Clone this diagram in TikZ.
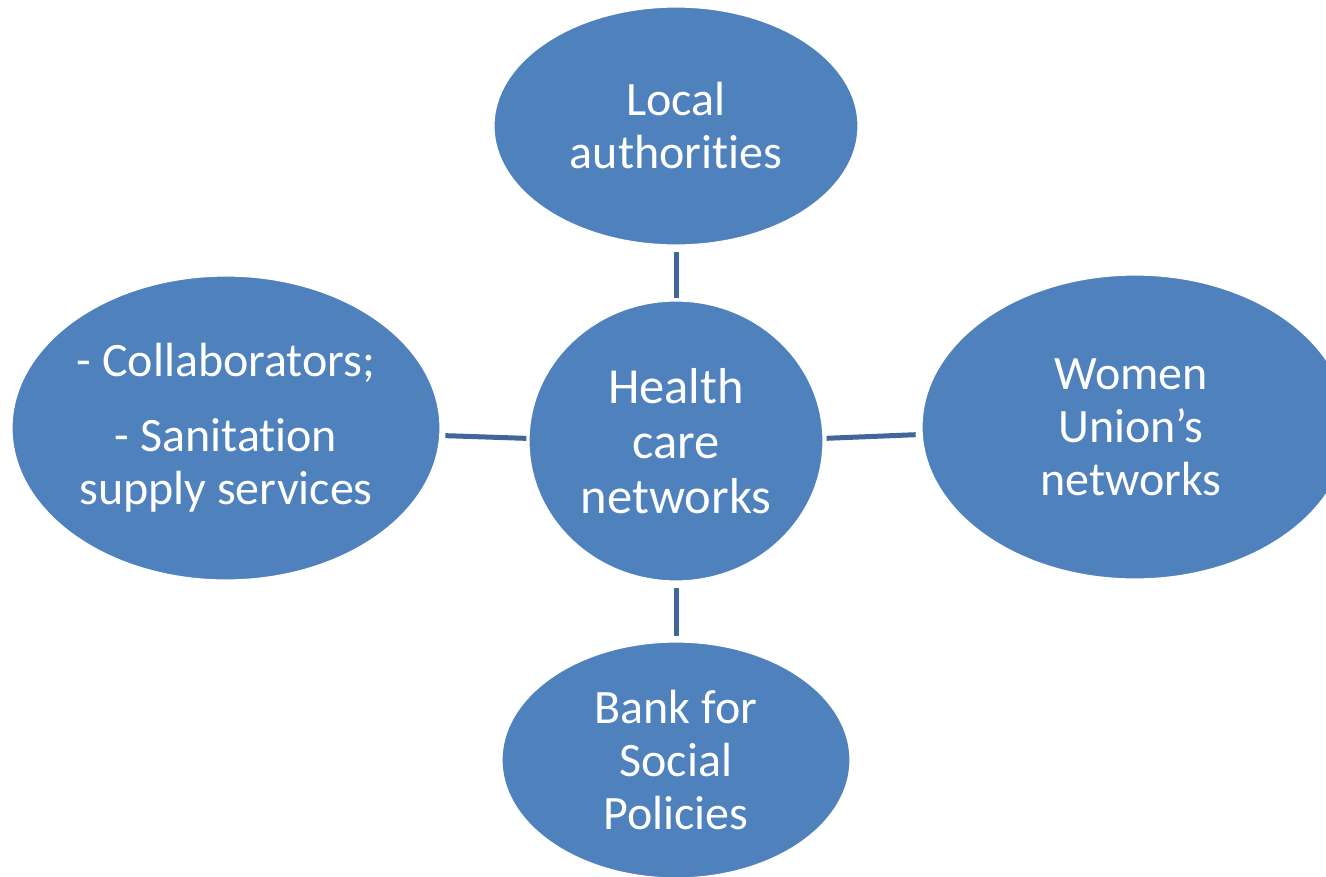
\documentclass[tikz,border=0pt]{standalone}
\usepackage{fontspec}
\setmainfont{Carlito}[Ligatures={NoCommon}]
\usetikzlibrary{shapes.geometric}

\definecolor{bubblefill}{HTML}{4F81BD}
\definecolor{linkline}{HTML}{3F6797}

\tikzset{
  bubble/.style={ellipse, fill=bubblefill, draw=white, line width=1.2pt,
    inner sep=0pt, text=white, align=center,
    font=\fontsize{48}{53}\selectfont},
  link/.style={draw=linkline, line width=5pt}
}

\begin{document}
\begin{tikzpicture}[x=1pt, y=-1pt]
  \useasboundingbox (0,0) rectangle (1326,876);
  \clip (0,0) rectangle (1326,876);

  % the hub and its four partners
  \node[bubble, minimum width=294pt, minimum height=280pt,
        font=\fontsize{50.5}{55}\selectfont] (hub) at (676,441)
    {Health\\care\\networks};
  \node[bubble, minimum width=364pt, minimum height=238pt] (top) at (676,126)
    {Local\\authorities};
  \node[bubble, minimum width=428pt, minimum height=304pt] (left) at (226,428)
    {- Collaborators;\\[22pt]- Sanitation\\supply services};
  \node[bubble, minimum width=426pt, minimum height=304pt] (right) at (1135,427) {};
  \node[text=white, align=center, font=\fontsize{48}{53}\selectfont,
        inner sep=0pt] (righttext) at (1131,427)
    {Women\\Union’s\\networks};
  \node[bubble, minimum width=348pt, minimum height=236pt] (bottom) at (676,760)
    {Bank for\\Social\\Policies};

  % spokes
  \draw[link, shorten <=6pt, shorten >=2pt] (top.south) -- (hub.north);
  \draw[link, shorten <=6pt, shorten >=5pt] (hub.south) -- (bottom.north);
  \draw[link, shorten <=5pt, shorten >=2pt] (left.-2) -- (hub.179);
  \draw[link, shorten <=3pt, shorten >=6pt] (hub.1.5) -- (right.182);
\end{tikzpicture}
\end{document}
